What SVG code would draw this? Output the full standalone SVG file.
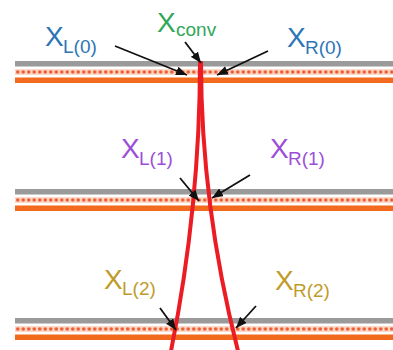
<svg xmlns="http://www.w3.org/2000/svg" width="393" height="350" viewBox="0 0 393 350">
<style>
.gray{fill:#9a9a9a}
.band{fill:#fcd9c6}
.org{fill:#f26a1e}
.red{fill:none;stroke:#ec1c24;stroke-width:4}
.arr{stroke:#111;stroke-width:1.8;fill:none;marker-end:url(#ah)}
text{font-family:"Liberation Sans",Arial,sans-serif}
.big{font-size:28px}
.sub{font-size:19px}
.blue{fill:#2e75b6}
.green{fill:#2fa85a}
.purple{fill:#9b4fd8}
.gold{fill:#bf9c2a}
</style>
<defs>
<pattern id="dots" x="15" y="0" width="5.5" height="400" patternUnits="userSpaceOnUse">
<circle cx="2.75" cy="72" r="1.8" fill="#ef5a32"/>
</pattern>
<marker id="ah" markerUnits="userSpaceOnUse" markerWidth="11" markerHeight="9" refX="11" refY="4.5" orient="auto">
<path d="M0,0 L11,4.5 L0,9 z" fill="#111"/>
</marker>
<g id="stack">
<rect class="gray" x="15" y="61" width="378" height="5.5"/>
<rect class="band" x="15" y="69" width="378" height="6"/>
<rect fill="url(#dots)" x="15" y="69" width="378" height="6"/>
<rect class="org" x="15" y="77.5" width="378" height="5.5"/>
</g>
</defs>
<g id="layer0"><use href="#stack"/></g>
<g id="layer1"><use href="#stack" transform="translate(0,128)"/></g>
<g id="layer2"><use href="#stack" transform="translate(0,257)"/></g>
<g id="beams">
<path class="red" d="M200,61 Q200,206 171,351"/>
<path class="red" d="M201,61 Q201,206 238,351"/>
</g>
<g id="connectors">
<line class="arr" x1="185" y1="42" x2="201" y2="63"/>
<line class="arr" x1="115" y1="46" x2="187" y2="75"/>
<line class="arr" x1="268" y1="51" x2="217" y2="75"/>
<line class="arr" x1="180" y1="178" x2="199" y2="201"/>
<line class="arr" x1="250" y1="175" x2="212" y2="198"/>
<line class="arr" x1="160" y1="308" x2="176" y2="330"/>
<line class="arr" x1="256" y1="306" x2="236" y2="328"/>
</g>
<g id="label-xconv"><text class="green"><tspan class="big" x="157" y="32">X</tspan><tspan class="sub" x="176" y="36">conv</tspan></text></g>
<g id="label-xl0"><text class="blue"><tspan class="big" x="45" y="46">X</tspan><tspan class="sub" x="63" y="53">L(0)</tspan></text></g>
<g id="label-xr0"><text class="blue"><tspan class="big" x="287" y="47">X</tspan><tspan class="sub" x="305" y="54">R(0)</tspan></text></g>
<g id="label-xl1"><text class="purple"><tspan class="big" x="121" y="158">X</tspan><tspan class="sub" x="139" y="165">L(1)</tspan></text></g>
<g id="label-xr1"><text class="purple"><tspan class="big" x="270" y="158">X</tspan><tspan class="sub" x="288" y="165">R(1)</tspan></text></g>
<g id="label-xl2"><text class="gold"><tspan class="big" x="104" y="289">X</tspan><tspan class="sub" x="122" y="295">L(2)</tspan></text></g>
<g id="label-xr2"><text class="gold"><tspan class="big" x="275" y="290">X</tspan><tspan class="sub" x="293" y="297">R(2)</tspan></text></g>
</svg>
